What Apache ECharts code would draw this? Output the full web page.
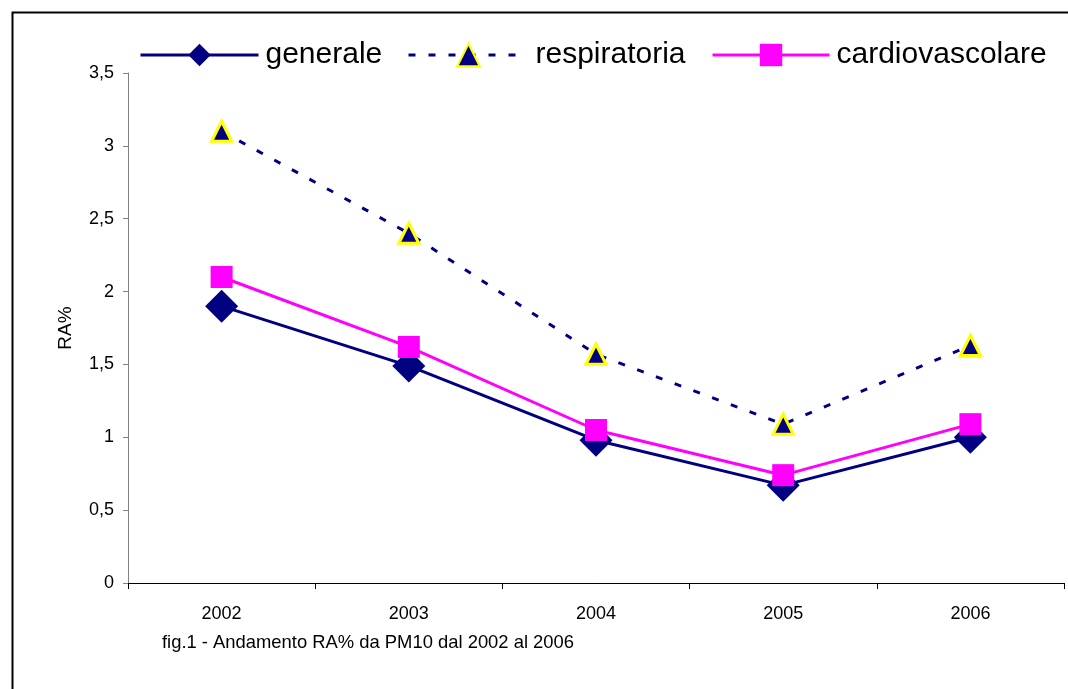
<!DOCTYPE html>
<html><head><meta charset="utf-8">
<script src="https://cdn.jsdelivr.net/npm/echarts@6/dist/echarts.min.js"></script>
<style>html,body{margin:0;padding:0;background:#fff}#c{width:1068px;height:689px}</style>
</head><body><div id="c"></div>
<script>
const years = ['2002','2003','2004','2005','2006'];
const generale = [1.90, 1.49, 0.98, 0.67, 1.00];
const respiratoria = [3.10, 2.40, 1.57, 1.09, 1.63];
const cardiovascolare = [2.10, 1.62, 1.05, 0.74, 1.09];
const yTicks = [0, 0.5, 1, 1.5, 2, 2.5, 3, 3.5];
const seriesNames = ['generale', 'respiratoria', 'cardiovascolare'];
const caption = 'fig.1 - Andamento RA% da PM10 dal 2002 al 2006';
const FONT = 'Liberation Sans, Arial, sans-serif';
const legendText = {fontFamily: FONT, fontSize: 30, color: '#000', padding: [0,0,0,2]};
const legendLine = {width: 3};
const chart = echarts.init(document.getElementById('c'));
chart.setOption({
  animation: false,
  backgroundColor: '#fff',
  grid: {left: 128, right: 4, top: 73, bottom: 106},
  legend: [
    {left: 139, top: 40, padding: 0, itemWidth: 118, itemHeight: 28, lineStyle: legendLine, textStyle: legendText, data: [seriesNames[0]]},
    {left: 407, top: 40, padding: 0, itemWidth: 120, itemHeight: 28, lineStyle: legendLine, textStyle: legendText, data: [seriesNames[1]]},
    {left: 711, top: 40, padding: 0, itemWidth: 117, itemHeight: 28, lineStyle: legendLine, textStyle: legendText, data: [seriesNames[2]]}
  ],
  xAxis: {
    type: 'category', data: years, boundaryGap: true,
    axisLine: {lineStyle: {color: '#000', width: 1}},
    axisTick: {show: true, inside: false, length: 6, lineStyle: {color: '#000'}},
    axisLabel: {fontFamily: FONT, fontSize: 18, color: '#000', margin: 22}
  },
  yAxis: {
    type: 'value', min: 0, max: 3.5, interval: 0.5,
    name: 'RA%', nameLocation: 'middle', nameGap: 53, nameRotate: 90,
    nameTextStyle: {fontFamily: FONT, fontSize: 19, color: '#000'},
    splitLine: {show: false},
    axisLine: {show: true, lineStyle: {color: '#808080', width: 1}},
    axisTick: {show: true, length: 5, lineStyle: {color: '#808080'}},
    axisLabel: {fontFamily: FONT, fontSize: 18, color: '#000', margin: 14,
      formatter: v => yTicks.includes(v) ? String(v).replace('.', ',') : ''}
  },
  series: [
    {name: seriesNames[0], type: 'line', data: generale, symbol: 'diamond', symbolSize: 33,
     lineStyle: {color: '#000080', width: 3}, itemStyle: {color: '#000080'}},
    {name: seriesNames[1], type: 'line', data: respiratoria, symbol: 'triangle', symbolSize: 20,
     lineStyle: {color: '#000080', width: 3, type: [7, 13]},
     itemStyle: {color: '#000080', borderColor: '#ffff00', borderWidth: 3}},
    {name: seriesNames[2], type: 'line', data: cardiovascolare, symbol: 'rect', symbolSize: 22,
     lineStyle: {color: '#ff00ff', width: 3}, itemStyle: {color: '#ff00ff'}}
  ],
  graphic: [
    {type: 'rect', left: 10, top: 10, shape: {width: 1200, height: 800},
     style: {fill: 'none', stroke: '#000', lineWidth: 2}, silent: true, z: -1},
    {type: 'text', left: 162, top: 634,
     style: {text: caption, fontFamily: FONT, fontSize: 18.4, fill: '#000'}}
  ]
});
</script></body></html>
